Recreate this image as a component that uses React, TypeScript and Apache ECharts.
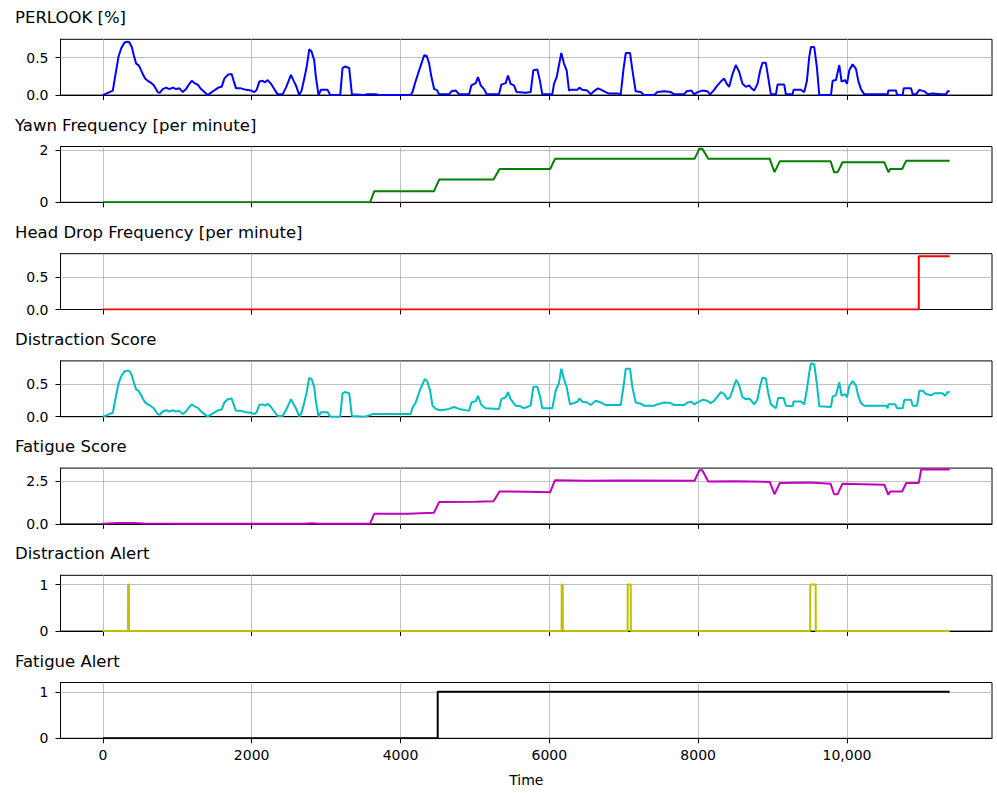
import React, { useEffect, useRef } from "react";
import * as echarts from "echarts";

const panelTitles = [
  "PERLOOK [%]",
  "Yawn Frequency [per minute]",
  "Head Drop Frequency [per minute]",
  "Distraction Score",
  "Fatigue Score",
  "Distraction Alert",
  "Fatigue Alert",
];
const lineColors = ["#0000ff", "#008000", "#ff0000", "#00bfbf", "#bf00bf", "#bfbf00", "#000000"];
const xTickValues = [0, 2000, 4000, 6000, 8000, 10000];
const xTickLabels = ["0", "2000", "4000", "6000", "8000", "10,000"];
const yTickValues = [[0, 0.5], [0, 2], [0, 0.5], [0, 0.5], [0, 2.5], [0, 1], [0, 1]];
const yTickLabels = [["0.0", "0.5"], ["0", "2"], ["0.0", "0.5"], ["0.0", "0.5"], ["0.0", "2.5"], ["0", "1"], ["0", "1"]];
const yMax = [0.743, 2.13, 0.86, 0.86, 3.27, 1.2, 1.2];
const xMin = -569;
const xMax = 11949;

const perlook: [number, number][] = [
  [0, 0], [89, 0.04], [134, 0.06], [179, 0.33], [210, 0.51], [246, 0.62], [291, 0.7], [336, 0.71], [358, 0.7],
  [389, 0.64], [416, 0.53], [447, 0.42], [479, 0.4], [506, 0.35], [537, 0.28], [568, 0.22], [604, 0.19],
  [640, 0.17], [684, 0.13], [738, 0.04], [765, 0.03], [805, 0.08], [850, 0.1], [895, 0.08], [940, 0.1],
  [984, 0.08], [1029, 0.09], [1074, 0.04], [1118, 0.08], [1163, 0.15], [1195, 0.19], [1230, 0.16],
  [1275, 0.14], [1320, 0.08], [1365, 0.04], [1409, 0.0], [1463, 0.04], [1508, 0.07], [1552, 0.1],
  [1597, 0.11], [1633, 0.22], [1678, 0.27], [1731, 0.28], [1758, 0.19], [1790, 0.09], [1857, 0.09],
  [1924, 0.07], [1991, 0.06], [2036, 0.04], [2067, 0.07], [2103, 0.18], [2148, 0.19], [2179, 0.17],
  [2215, 0.2], [2260, 0.15], [2304, 0.08], [2349, 0.01], [2416, 0.01], [2461, 0.1], [2497, 0.19],
  [2528, 0.27], [2564, 0.19], [2595, 0.13], [2640, 0.0], [2671, 0.06], [2707, 0.22], [2738, 0.37],
  [2774, 0.61], [2805, 0.58], [2841, 0.46], [2863, 0.24], [2899, 0.0], [2931, 0.07], [3020, 0.07],
  [3056, 0.0], [3190, 0.0], [3221, 0.36], [3253, 0.38], [3311, 0.36], [3347, 0.01], [3512, 0.0],
  [3557, 0.01], [3669, 0.01], [3713, 0], [4138, 0], [4161, 0.04], [4205, 0.19], [4264, 0.37],
  [4318, 0.53], [4353, 0.52], [4385, 0.42], [4416, 0.24], [4452, 0.08], [4488, 0.07], [4519, 0.01],
  [4653, 0.01], [4685, 0.05], [4743, 0.06], [4788, 0.01], [4922, 0.01], [4953, 0.13], [5011, 0.16],
  [5042, 0.24], [5078, 0.13], [5123, 0.08], [5159, 0.01], [5324, 0.01], [5355, 0.14], [5414, 0.16],
  [5445, 0.26], [5480, 0.15], [5525, 0.13], [5561, 0.04], [5682, 0.03], [5749, 0.04], [5785, 0.33],
  [5839, 0.34], [5874, 0.19], [5906, 0.01], [6040, 0.01], [6063, 0.15], [6099, 0.24], [6130, 0.4],
  [6161, 0.56], [6197, 0.42], [6233, 0.33], [6265, 0.06], [6287, 0.07], [6377, 0.07], [6404, 0.1],
  [6444, 0.07], [6511, 0.06], [6556, 0.01], [6610, 0.06], [6655, 0.09], [6700, 0.07], [6758, 0.04],
  [6803, 0.02], [6915, 0.02], [6960, 0.01], [6995, 0.33], [7027, 0.56], [7085, 0.56], [7117, 0.33],
  [7161, 0.05], [7229, 0.04], [7273, 0], [7408, 0], [7453, 0.04], [7543, 0.05], [7632, 0.04],
  [7677, 0.01], [7812, 0.01], [7843, 0.05], [7910, 0.06], [7946, 0.01], [7991, 0.04], [8058, 0.06],
  [8125, 0.05], [8161, 0.01], [8206, 0.06], [8260, 0.13], [8305, 0.18], [8350, 0.22], [8385, 0.15],
  [8417, 0.11], [8462, 0.28], [8506, 0.4], [8551, 0.31], [8596, 0.15], [8641, 0.11], [8686, 0.13],
  [8717, 0.09], [8753, 0.06], [8798, 0.15], [8834, 0.33], [8865, 0.43], [8910, 0.43], [8941, 0.24],
  [8977, 0.01], [9045, 0.01], [9067, 0.14], [9157, 0.14], [9179, 0.01], [9269, 0.01], [9282, 0.07],
  [9381, 0.07], [9426, 0.04], [9462, 0.19], [9493, 0.51], [9516, 0.64], [9560, 0.64], [9596, 0.37],
  [9628, 0], [9785, 0], [9807, 0.19], [9852, 0.2], [9897, 0.4], [9928, 0.18], [9973, 0.2],
  [10000, 0.15], [10031, 0.33], [10076, 0.41], [10121, 0.35], [10152, 0.19], [10188, 0.08],
  [10233, 0.01], [10547, 0.01], [10556, 0.06], [10659, 0.06], [10673, 0], [10749, 0], [10762, 0.09],
  [10861, 0.09], [10884, 0.01], [10928, 0.01], [10973, 0.07], [11040, 0.05], [11085, 0.01],
  [11152, 0.02], [11264, 0.01], [11332, 0.01], [11354, 0.05], [11380, 0.05],
];

const yawnFrequency: [number, number][] = [
  [0, 0], [3591, 0], [3647, 0.42], [4449, 0.42], [4521, 0.87], [5250, 0.87], [5331, 1.27], [6012, 1.27],
  [6076, 1.66], [7952, 1.66], [8016, 2.04], [8056, 2.04], [8136, 1.66], [8962, 1.66], [9026, 1.15],
  [9098, 1.57], [9779, 1.57], [9827, 1.15], [9875, 1.15], [9940, 1.53], [10501, 1.53], [10557, 1.15],
  [10581, 1.27], [10741, 1.27], [10797, 1.59], [11380, 1.59],
];

const headDropFrequency: [number, number][] = [
  [0, 0], [10965, 0], [10965, 0.82], [11380, 0.82],
];

const distractionScore: [number, number][] = [
  [0, 0], [89, 0.04], [134, 0.06], [179, 0.33], [210, 0.51], [246, 0.62], [291, 0.7], [336, 0.71], [358, 0.7],
  [389, 0.64], [416, 0.53], [447, 0.42], [479, 0.4], [506, 0.35], [537, 0.28], [568, 0.22], [604, 0.19],
  [640, 0.17], [684, 0.13], [738, 0.04], [765, 0.03], [805, 0.08], [850, 0.1], [895, 0.08], [940, 0.1],
  [984, 0.08], [1029, 0.09], [1074, 0.04], [1118, 0.08], [1163, 0.15], [1195, 0.19], [1230, 0.16],
  [1275, 0.14], [1320, 0.08], [1365, 0.04], [1409, 0.0], [1463, 0.04], [1508, 0.07], [1552, 0.1],
  [1597, 0.11], [1633, 0.22], [1678, 0.27], [1731, 0.28], [1758, 0.19], [1790, 0.09], [1857, 0.09],
  [1924, 0.07], [1991, 0.06], [2036, 0.04], [2067, 0.07], [2103, 0.18], [2148, 0.19], [2179, 0.17],
  [2215, 0.2], [2260, 0.15], [2304, 0.08], [2349, 0.01], [2416, 0.01], [2461, 0.1], [2497, 0.19],
  [2528, 0.27], [2564, 0.19], [2595, 0.13], [2640, 0.0], [2671, 0.06], [2707, 0.22], [2738, 0.37],
  [2774, 0.6], [2805, 0.58], [2841, 0.46], [2863, 0.24], [2899, 0.0], [2931, 0.07], [3020, 0.07],
  [3056, 0.0], [3190, 0.0], [3221, 0.36], [3253, 0.38], [3311, 0.36], [3347, 0.01], [3512, 0.0],
  [3557, 0.01], [3624, 0.04], [4138, 0.04], [4161, 0.14], [4205, 0.22], [4264, 0.42], [4326, 0.58],
  [4362, 0.54], [4398, 0.4], [4430, 0.17], [4474, 0.12], [4541, 0.1], [4653, 0.12], [4720, 0.15],
  [4788, 0.12], [4922, 0.09], [4953, 0.22], [5011, 0.24], [5042, 0.32], [5087, 0.18], [5145, 0.13],
  [5324, 0.12], [5355, 0.27], [5414, 0.3], [5445, 0.38], [5480, 0.27], [5547, 0.17], [5614, 0.16],
  [5659, 0.13], [5749, 0.17], [5785, 0.46], [5839, 0.46], [5874, 0.32], [5906, 0.13], [6040, 0.13],
  [6085, 0.4], [6130, 0.52], [6161, 0.74], [6197, 0.58], [6233, 0.46], [6278, 0.19], [6377, 0.23],
  [6404, 0.28], [6444, 0.23], [6511, 0.22], [6556, 0.18], [6623, 0.245], [6690, 0.22], [6758, 0.18],
  [6960, 0.18], [6995, 0.45], [7027, 0.74], [7085, 0.74], [7117, 0.45], [7161, 0.22], [7229, 0.2],
  [7273, 0.17], [7408, 0.17], [7453, 0.19], [7543, 0.22], [7632, 0.21], [7677, 0.18], [7812, 0.18],
  [7857, 0.22], [7910, 0.23], [7946, 0.19], [7991, 0.22], [8058, 0.26], [8125, 0.245], [8170, 0.21],
  [8215, 0.245], [8260, 0.31], [8305, 0.38], [8350, 0.35], [8394, 0.27], [8430, 0.3], [8475, 0.45],
  [8511, 0.57], [8551, 0.48], [8596, 0.3], [8641, 0.27], [8686, 0.28], [8717, 0.245], [8753, 0.19],
  [8798, 0.27], [8834, 0.48], [8865, 0.6], [8910, 0.59], [8941, 0.37], [8977, 0.19], [9045, 0.13],
  [9076, 0.29], [9148, 0.29], [9179, 0.17], [9269, 0.16], [9282, 0.235], [9381, 0.235], [9426, 0.19],
  [9462, 0.42], [9493, 0.68], [9516, 0.82], [9560, 0.81], [9596, 0.5], [9628, 0.16], [9785, 0.15],
  [9807, 0.31], [9852, 0.33], [9897, 0.53], [9928, 0.32], [9973, 0.35], [10000, 0.3], [10031, 0.47],
  [10076, 0.55], [10121, 0.48], [10152, 0.32], [10188, 0.21], [10233, 0.17], [10524, 0.17],
  [10547, 0.13], [10556, 0.19], [10650, 0.19], [10673, 0.13], [10749, 0.13], [10771, 0.26],
  [10861, 0.26], [10884, 0.17], [10942, 0.17], [10973, 0.4], [11018, 0.4], [11062, 0.35],
  [11130, 0.33], [11174, 0.36], [11287, 0.36], [11318, 0.32], [11354, 0.38], [11380, 0.38],
];

const fatigueScore: [number, number][] = [
  [0, 0.01], [200, 0.06], [400, 0.06], [560, 0.02], [1200, 0.01], [2700, 0.01], [2806, 0.04],
  [2900, 0.01], [3591, 0.01], [3647, 0.59], [4100, 0.6], [4449, 0.65], [4521, 1.29], [5000, 1.3],
  [5250, 1.33], [5331, 1.9], [5700, 1.88], [6012, 1.86], [6076, 2.56], [6500, 2.53], [7000, 2.55],
  [7952, 2.53], [8016, 3.14], [8056, 3.14], [8136, 2.48], [8500, 2.5], [8962, 2.46], [9026, 1.74],
  [9098, 2.4], [9500, 2.42], [9779, 2.36], [9827, 1.74], [9875, 1.74], [9940, 2.36], [10501, 2.3],
  [10557, 1.7], [10581, 1.9], [10741, 1.9], [10797, 2.4], [10965, 2.4], [10997, 3.19], [11380, 3.19],
];

const distractionAlert: [number, number][] = [
  [0, 0], [338, 0], [340, 1], [350, 1], [352, 0], [6165, 0], [6167, 1], [6180, 1], [6182, 0],
  [7052, 0], [7054, 1], [7094, 1], [7096, 0], [9505, 0], [9507, 1], [9579, 1], [9581, 0], [11380, 0],
];

const fatigueAlert: [number, number][] = [
  [0, 0], [4500, 0], [4500, 1], [11380, 1],
];

const seriesData = [perlook, yawnFrequency, headDropFrequency, distractionScore, fatigueScore, distractionAlert, fatigueAlert];

const FONT = "DejaVu Sans";

export default function App() {
  const ref = useRef<HTMLDivElement>(null);
  useEffect(() => {
    const chart = echarts.init(ref.current!, null, { renderer: "svg" });
    const gridLeft = 60.5;
    const gridWidth = 931.5;
    const gridHeight = 55.8;
    const tops = panelTitles.map((_, i) => 39.3 + 107.2 * i);

    const grids = tops.map((t) => ({
      left: gridLeft,
      top: t,
      width: gridWidth,
      height: gridHeight,
      show: true,
      borderColor: "#000",
      borderWidth: 1,
      backgroundColor: "transparent",
    }));

    const xAxes = tops.map((_, i) => ({
      type: "value",
      gridIndex: i,
      min: xMin,
      max: xMax,
      axisLine: { show: true, onZero: false, lineStyle: { color: "#000", width: 1 } },
      axisTick: { show: true, customValues: xTickValues, length: 5, lineStyle: { color: "#000", width: 1 } },
      axisLabel: {
        show: i === 6,
        customValues: xTickValues,
        margin: 10,
        color: "#000",
        fontSize: 14,
        fontFamily: FONT,
        formatter: (v: number) => xTickLabels[xTickValues.indexOf(v)] ?? "",
      },
      splitLine: { show: false },
      name: i === 6 ? "Time" : "",
      nameLocation: "middle",
      nameGap: 35,
      nameTextStyle: { color: "#000", fontSize: 14, fontFamily: FONT },
      z: 0,
    }));

    const yAxes = tops.map((_, i) => ({
      type: "value",
      gridIndex: i,
      min: 0,
      max: yMax[i],
      axisLine: { show: true, onZero: false, lineStyle: { color: "#000", width: 1 } },
      axisTick: { show: true, customValues: yTickValues[i], length: 5, lineStyle: { color: "#000", width: 1 } },
      axisLabel: {
        show: true,
        customValues: yTickValues[i],
        margin: 12,
        color: "#000",
        fontSize: 14,
        fontFamily: FONT,
        formatter: (v: number) => yTickLabels[i][yTickValues[i].indexOf(v)] ?? "",
      },
      splitLine: { show: false },
      z: 0,
    }));

    const gridSeries = tops.map((_, i) => ({
      type: "line",
      xAxisIndex: i,
      yAxisIndex: i,
      data: [],
      z: 1,
      silent: true,
      markLine: {
        silent: true,
        z: 1,
        symbol: ["none", "none"],
        label: { show: false },
        animation: false,
        lineStyle: { color: "#b0b0b0", width: 0.8, type: "solid" },
        data: [
          ...yTickValues[i].filter((v) => v !== 0).map((v) => ({ yAxis: v })),
          ...xTickValues.map((v) => ({ xAxis: v })),
        ],
      },
    }));

    const dataSeries = seriesData.map((d, i) => ({
      type: "line",
      xAxisIndex: i,
      yAxisIndex: i,
      data: d,
      showSymbol: false,
      symbol: "none",
      z: 10,
      clip: true,
      lineStyle: { color: lineColors[i], width: 2 },
      itemStyle: { color: lineColors[i] },
    }));

    const titles = tops.map((t, i) => ({
      type: "text",
      left: 15,
      top: t - 30,
      style: { text: panelTitles[i], fontSize: 16.5, fontFamily: FONT, fill: "#000" },
    }));

    chart.setOption({
      animation: false,
      backgroundColor: "#fff",
      grid: grids,
      xAxis: xAxes,
      yAxis: yAxes,
      series: [...gridSeries, ...dataSeries],
      graphic: titles,
    });
    return () => chart.dispose();
  }, []);
  return (
    <div
      ref={ref}
      style={{ position: "absolute", left: 0, top: 0, width: 997, height: 793, background: "#fff" }}
    />
  );
}
